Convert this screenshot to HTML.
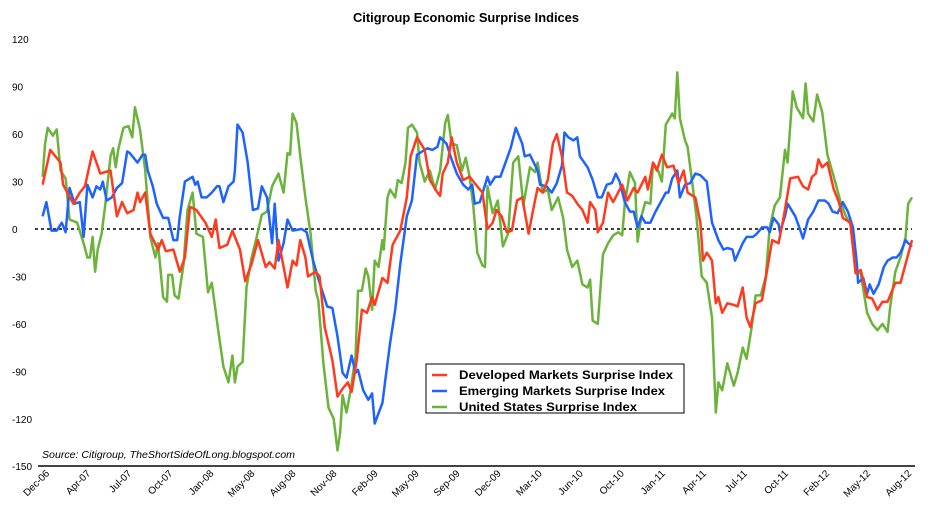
<!DOCTYPE html>
<html><head><meta charset="utf-8"><style>
body{margin:0;background:#fff;}
svg{display:block;font-family:"Liberation Sans",sans-serif;}
</style></head><body>
<svg id="chart" width="932" height="512" viewBox="0 0 932 512">
<text x="353" y="22" font-size="13" font-weight="bold" textLength="226" lengthAdjust="spacingAndGlyphs">Citigroup Economic Surprise Indices</text>
<g id="yaxis"></g>
<g id="xaxis"></g>
<line x1="35" y1="229" x2="912" y2="229" stroke="#000" stroke-width="1.5" stroke-dasharray="3,3"/>
<g id="series"></g>
<line x1="38" y1="466" x2="915" y2="466" stroke="#444" stroke-width="2"/>
<text x="42" y="458" font-size="10" font-style="italic" textLength="253" lengthAdjust="spacingAndGlyphs">Source: Citigroup, TheShortSideOfLong.blogspot.com</text>
<g>
<rect x="426" y="364" width="258" height="49" fill="#fff" stroke="#000" stroke-width="1"/>
<g><line x1="432" y1="375" x2="447" y2="375" stroke="#ff3a1f" stroke-width="2.5"/><text x="459" y="379" font-size="12" font-weight="bold" textLength="214" lengthAdjust="spacingAndGlyphs">Developed Markets Surprise Index</text></g>
<g><line x1="432" y1="391" x2="447" y2="391" stroke="#1f63ff" stroke-width="2.5"/><text x="459" y="395" font-size="12" font-weight="bold" textLength="206" lengthAdjust="spacingAndGlyphs">Emerging Markets Surprise Index</text></g>
<g><line x1="432" y1="407" x2="447" y2="407" stroke="#6bb33a" stroke-width="2.5"/><text x="459" y="411" font-size="12" font-weight="bold" textLength="178" lengthAdjust="spacingAndGlyphs">United States Surprise Index</text></g>
</g>
</svg>
<script>
// time in months since Dec-06
const yTicks=[120,90,60,30,0,-30,-60,-90,-120,-150];
const xLabels=["Dec-06","Apr-07","Jul-07","Oct-07","Jan-08","May-08","Aug-08","Nov-08","Feb-09","May-09","Sep-09","Dec-09","Mar-10","Jun-10","Oct-10","Jan-11","Apr-11","Jul-11","Oct-11","Feb-12","May-12","Aug-12"];
const devT=[0.2,0.8,1.6,1.8,2.6,3.1,3.5,4.1,4.7,5.5,6.0,6.4,6.8,7.3,7.6,7.8,8.2,8.6,9.2,9.5,9.8,10.4,10.9,11.3,11.7,12.2,12.9,13.4,13.7,14.0,14.6,15.0,15.6,16.0,16.5,17.0,17.6,17.9,18.3,18.6,19.3,19.7,20.0,20.3,20.7,20.9,21.5,21.8,22.2,22.8,23.2,23.6,24.0,24.3,24.7,25.1,25.5,25.9,26.1,26.7,27.1,27.5,28.1,28.6,28.9,29.4,30.0,30.4,31.0,31.2,31.4,31.8,32.1,32.5,33.0,33.5,33.9,34.5,34.9,35.3,35.6,36.0,36.4,36.8,37.2,37.6,38.1,38.5,38.8,39.2,39.6,40.0,40.3,40.7,41.1,41.5,41.9,42.3,42.7,42.9,43.3,43.5,43.9,44.3,44.7,45.4,45.8,46.3,46.6,47.2,47.4,47.8,48.1,48.5,48.9,49.4,49.8,50.2,50.5,51.1,51.5,51.7,52.0,52.4,52.7,52.9,53.2,53.6,54.1,54.4,54.8,55.1,55.4,55.8,56.3,56.7,57.1,57.6,58.0,58.5,59.1,59.5,59.9,60.2,60.5,60.7,61.0,61.4,61.9,62.3,62.6,63.2,63.6,64.0,64.5,64.9,65.3,65.7,66.1,66.7,67.1,67.5,68.0];
const devV=[28,50,42,28,16,23,27,49,35,37,8,17,10,12,23,17,23,-3,-13,-7,-14,-13,-27,-18,14,12,4,-5,6,-12,-10,-1,-13,-33,-22,-7,-24,-21,-25,-7,-37,-20,-23,-7,-18,-30,-27,-30,-62,-83,-106,-101,-97,-103,-83,-51,-53,-43,-48,-31,-34,-10,-1,20,46,58,50,31,23,21,35,42,58,42,31,33,29,23,0,4,12,8,-2,-1,18,20,-3,14,26,23,31,54,60,46,23,21,16,12,4,17,12,-2,4,23,17,28,18,26,23,33,25,42,37,47,39,40,29,37,23,20,4,-20,-15,-20,-47,-43,-53,-47,-48,-49,-37,-56,-62,-47,-45,-26,-7,-9,8,32,33,27,25,33,35,44,39,42,25,17,7,4,-28,-26,-43,-44,-51,-46,-46,-34,-34,-22,-7];
const emT=[0.2,0.5,0.9,1.3,1.7,2.0,2.3,2.7,3.1,3.4,3.7,4.1,4.4,4.7,4.9,5.2,5.6,6.0,6.4,6.8,7.0,7.6,8.0,8.2,8.4,8.8,9.1,9.6,10.0,10.4,10.7,10.9,11.3,11.9,12.1,12.3,12.6,13.0,13.4,13.8,14.0,14.3,14.7,15.1,15.2,15.4,15.8,16.2,16.6,17.0,17.3,17.7,18.1,18.3,18.6,19.0,19.3,19.7,20.4,20.8,21.3,21.8,22.4,22.8,23.2,23.6,23.9,24.3,24.6,24.8,25.2,25.6,25.9,26.1,26.7,26.9,27.3,27.7,28.1,28.6,29.0,29.4,29.8,30.2,30.6,31.0,31.2,31.7,32.1,32.5,33.0,33.4,33.7,33.9,34.3,34.9,35.1,35.5,35.9,36.3,36.7,37.1,37.6,37.8,38.2,38.8,39.0,39.5,39.9,40.3,40.7,40.9,41.2,41.6,41.9,42.1,42.7,43.1,43.5,43.8,44.2,44.6,44.9,45.2,45.6,46.0,46.3,46.6,46.9,47.2,47.6,48.0,48.4,48.8,49.0,49.3,49.7,49.9,50.3,50.7,51.1,51.5,52.0,52.4,52.9,53.3,53.6,54.0,54.2,54.8,55.1,55.6,55.9,56.3,56.7,56.9,57.2,57.6,57.7,58.1,58.3,58.9,59.3,59.5,59.9,60.3,60.7,61.2,61.5,61.8,62.2,62.6,63.0,63.4,63.7,63.8,64.2,64.5,64.7,65.0,65.4,65.8,66.1,66.5,66.8,67.1,67.5,67.7,68.0];
const emV=[8,17,-1,-1,4,-2,26,16,17,-5,28,20,27,25,30,18,20,26,29,49,48,42,47,47,37,27,16,7,7,-7,-7,8,30,33,28,30,20,20,23,27,27,17,27,30,37,66,61,42,12,13,27,20,-9,16,-20,-9,6,-1,0,-2,-20,-34,-49,-50,-68,-91,-94,-80,-91,-89,-102,-108,-104,-123,-110,-97,-72,-51,-22,8,18,47,49,51,50,52,58,54,44,35,28,25,28,16,17,33,28,33,33,42,51,64,54,46,47,37,28,27,23,29,40,61,58,56,58,46,39,31,20,20,28,29,35,30,17,11,11,1,8,4,4,11,17,23,23,32,37,20,28,29,35,34,30,4,-7,-13,-12,-13,-20,-9,-5,-5,-3,1,1,-2,7,3,-2,8,16,8,-1,-6,6,11,18,18,16,11,10,17,11,1,-22,-34,-31,-41,-35,-41,-35,-24,-20,-18,-18,-15,-7,-9,-11];
const usT=[0.2,0.4,0.6,1.0,1.3,1.6,2.0,2.3,2.9,3.4,3.7,3.9,4.1,4.3,4.5,4.8,5.1,5.5,5.7,5.9,6.1,6.5,6.9,7.2,7.4,7.8,8.2,8.6,9.0,9.2,9.6,9.9,10.0,10.3,10.5,10.8,11.2,11.5,11.9,12.2,12.7,13.1,13.4,13.9,14.3,14.7,15.0,15.2,15.4,15.8,16.1,16.5,16.9,17.3,17.7,18.1,18.6,19.0,19.3,19.5,19.7,20.0,20.3,20.7,21.1,21.5,21.7,22.1,22.5,22.9,23.2,23.4,23.6,23.9,24.2,24.6,24.8,25.1,25.4,25.6,25.9,26.1,26.4,26.7,26.8,27.1,27.3,27.7,27.9,28.2,28.5,28.7,29.0,29.4,29.6,30.0,30.4,30.8,31.2,31.6,31.8,32.1,32.5,32.9,33.2,33.5,33.8,34.1,34.5,34.7,34.9,35.3,35.7,36.1,36.5,36.9,37.3,37.7,38.2,38.6,38.8,39.2,39.6,39.9,40.4,40.8,41.1,41.5,41.9,42.3,42.7,42.9,43.1,43.5,43.9,44.3,44.7,45.1,45.4,45.6,46.0,46.4,46.6,46.9,47.2,47.6,47.8,48.2,48.5,48.8,49.3,49.5,49.7,49.9,50.3,50.5,50.9,51.2,51.6,52.0,52.4,52.7,52.9,53.2,53.6,54.1,54.4,54.8,55.1,55.5,55.8,56.2,56.6,56.9,57.3,57.7,58.1,58.3,58.7,59.0,59.5,59.7,59.9,60.3,60.6,61.0,61.4,61.9,62.4,62.8,63.2,63.6,64.0,64.5,64.9,65.3,65.7,66.1,66.3,66.7,67.1,67.5,67.7,68.0];
const usV=[33,54,64,59,63,37,32,6,4,-9,-18,-18,-5,-27,-13,-3,16,46,51,39,50,64,65,58,77,63,37,-5,-18,-9,-43,-46,-29,-29,-42,-44,-22,12,23,-3,-5,-40,-34,-64,-87,-97,-80,-97,-87,-84,-37,-18,-5,9,11,27,35,23,48,47,73,67,46,20,-3,-39,-45,-85,-113,-120,-140,-129,-105,-116,-103,-81,-39,-39,-25,-30,-51,-20,-24,-7,-13,20,25,20,31,29,42,64,66,61,42,30,37,25,37,67,72,54,53,37,45,33,14,-15,-23,-24,27,10,18,-11,-3,42,46,15,39,36,42,23,25,12,20,7,-13,-24,-20,-35,-37,-32,-58,-60,-16,-9,-4,-2,-4,16,36,29,-8,8,17,16,42,37,30,66,73,70,99,70,56,52,27,7,-30,-34,-56,-116,-97,-102,-85,-99,-91,-75,-82,-62,-42,-42,-30,1,15,20,50,42,87,77,70,92,73,68,85,74,47,33,18,9,3,-26,-28,-53,-60,-64,-60,-65,-49,-27,-18,-5,16,20];

const NS="http://www.w3.org/2000/svg";
const xScale=m=>40+m*(872/68);
const yScale=v=>229-v*(427/270);
const yg=document.getElementById('yaxis'),xg=document.getElementById('xaxis'),sg=document.getElementById('series');
yTicks.forEach(t=>{
  const el=document.createElementNS(NS,'text');
  el.setAttribute('x',12);el.setAttribute('y',yScale(t)+4);el.setAttribute('font-size','10');
  el.textContent=t;
  
  
  yg.appendChild(el);
});
xLabels.forEach((l,i)=>{
  const x=50+i*(862/(xLabels.length-1)),y=474;
  const el=document.createElementNS(NS,'text');
  el.setAttribute('x',x);el.setAttribute('y',y);el.setAttribute('font-size','10');
  el.setAttribute('text-anchor','end');
  el.setAttribute('transform','rotate(-45 '+x+' '+y+')');
  el.textContent=l;
  
  
  xg.appendChild(el);
});
function drawLine(T,V,color,name){
  const p=document.createElementNS(NS,'path');
  p.setAttribute('d',T.map((t,i)=>(i?'L':'M')+xScale(t).toFixed(1)+','+yScale(V[i]).toFixed(1)).join(''));
  p.setAttribute('fill','none');p.setAttribute('stroke',color);p.setAttribute('stroke-width','2.5');
  p.setAttribute('stroke-linejoin','round');
  
  
  sg.appendChild(p);
}
drawLine(usT,usV,'#6bb33a','us-surprise-line');
drawLine(emT,emV,'#1f63ff','emerging-surprise-line');
drawLine(devT,devV,'#ff3a1f','developed-surprise-line');
</script>
</body></html>
